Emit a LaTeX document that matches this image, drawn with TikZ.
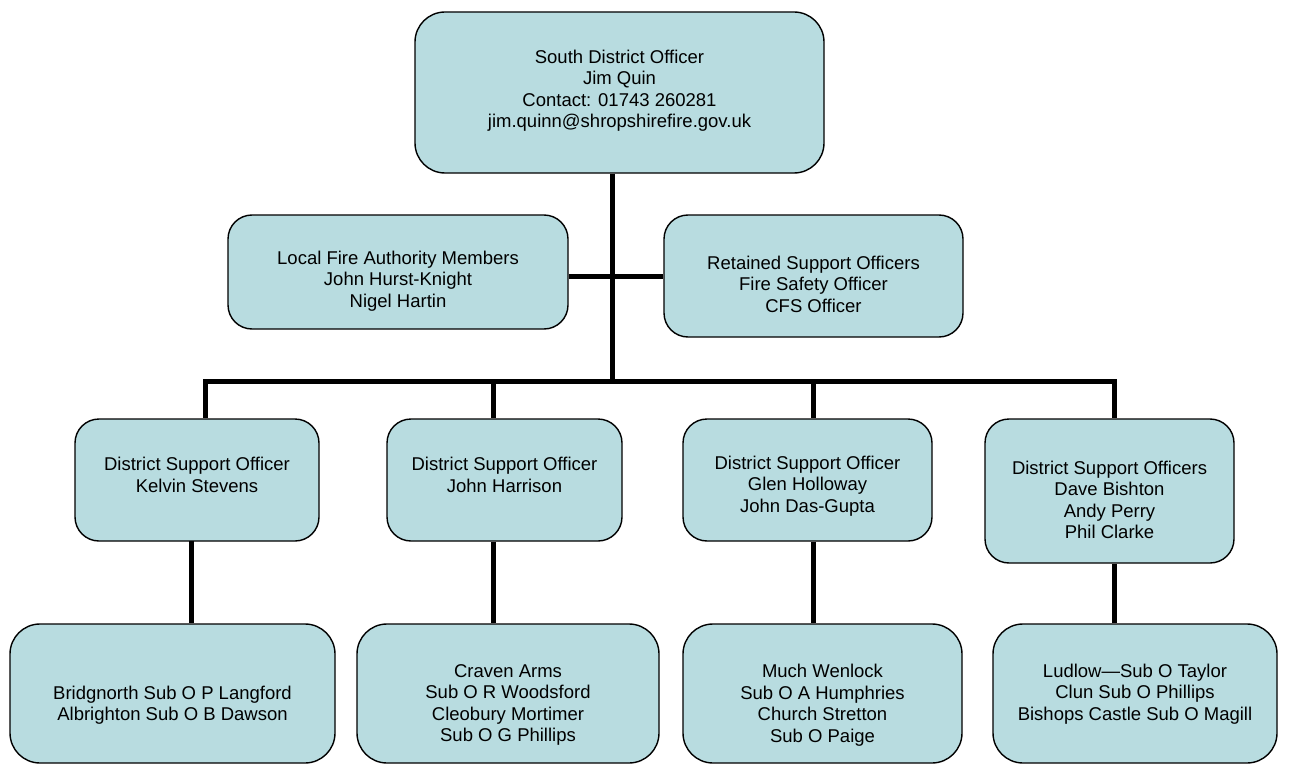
\documentclass[tikz,border=0pt]{standalone}
\usepackage{fontspec}
\setmainfont{Liberation Sans}
\definecolor{boxfill}{RGB}{184,220,224}
\begin{document}
\begin{tikzpicture}[x=1pt,y=-1pt,
  orgbox/.style={draw=black,line width=1.4pt,fill=boxfill,rounded corners=24pt,inner sep=0pt},
  tx/.style={align=center,inner sep=0pt,font=\fontsize{18.5}{21.5}\selectfont},
  conn/.style={line width=5pt,black}]
\useasboundingbox (0,0) rectangle (1293,765);
% boxes
\node[orgbox,minimum width=409pt,minimum height=161pt,rounded corners=30pt] (top) at (619.5,92.5) {};
\node[orgbox,minimum width=340pt,minimum height=114pt] (lfa) at (398,272) {};
\node[orgbox,minimum width=299pt,minimum height=122pt] (rso) at (813.5,276) {};
\node[orgbox,minimum width=244pt,minimum height=122pt] (d1) at (197,480) {};
\node[orgbox,minimum width=235pt,minimum height=122pt] (d2) at (504.5,480) {};
\node[orgbox,minimum width=249pt,minimum height=122pt] (d3) at (807.5,480) {};
\node[orgbox,minimum width=249pt,minimum height=144pt] (d4) at (1109.5,491) {};
\node[orgbox,minimum width=325pt,minimum height=139pt,rounded corners=30pt] (b1) at (172.5,693.5) {};
\node[orgbox,minimum width=302pt,minimum height=139pt,rounded corners=30pt] (b2) at (508,693.5) {};
\node[orgbox,minimum width=279pt,minimum height=139pt,rounded corners=30pt] (b3) at (822.5,693.5) {};
\node[orgbox,minimum width=284pt,minimum height=139pt,rounded corners=30pt] (b4) at (1135,693.5) {};
% texts
\node[tx] (ttop) at (619.5,90.5) {South District Officer\\Jim Quin\\Contact: 01743 260281\\jim.quinn@shropshirefire.gov.uk};
\node[tx] (tlfa) at (398,281) {Local Fire Authority Members\\John Hurst-Knight\\Nigel Hartin};
\node[tx] (trso) at (813.5,284) {Retained Support Officers\\Fire Safety Officer\\CFS Officer};
\node[tx] (td1) at (197,475) {District Support Officer\\Kelvin Stevens};
\node[tx] (td2) at (504.5,475) {District Support Officer\\John Harrison};
\node[tx] (td3) at (807.5,486) {District Support Officer\\Glen Holloway\\John Das-Gupta};
\node[tx] (td4) at (1109.5,500) {District Support Officers\\Dave Bishton\\Andy Perry\\Phil Clarke};
\node[tx] (tb1) at (172.5,705) {Bridgnorth Sub O P Langford\\Albrighton Sub O B Dawson};
\node[tx] (tb2) at (508,705) {Craven Arms\\Sub O R Woodsford\\Cleobury Mortimer\\Sub O G Phillips};
\node[tx] (tb3) at (822.5,705) {Much Wenlock\\Sub O A Humphries\\Church Stretton\\Sub O Paige};
\node[tx] (tb4) at (1135,694) {Ludlow—Sub O Taylor\\Clun Sub O Phillips\\Bishops Castle Sub O Magill};
% bus coordinates
\coordinate (bL) at (205,381);
\coordinate (bR) at (1114,381);
\coordinate (bM) at (612,381);
\coordinate (b2x) at (493,381);
\coordinate (b3x) at (813,381);
% connectors
\draw[conn] (top.south -| bM) -- (bM);
\draw[conn] (lfa.east |- rso.west) -- (rso.west);
\draw[conn,line cap=rect] (bL) -- (bR);
\draw[conn] (bL) -- (bL |- d1.north);
\draw[conn] (b2x) -- (b2x |- d2.north);
\draw[conn] (b3x) -- (b3x |- d3.north);
\draw[conn] (bR) -- (bR |- d4.north);
\coordinate (l1) at (191,541);
\draw[conn] (l1) -- (l1 |- b1.north);
\draw[conn] (b2x |- d2.south) -- (b2x |- b2.north);
\draw[conn] (b3x |- d3.south) -- (b3x |- b3.north);
\draw[conn] (bR |- d4.south) -- (bR |- b4.north);
\end{tikzpicture}
\end{document}
